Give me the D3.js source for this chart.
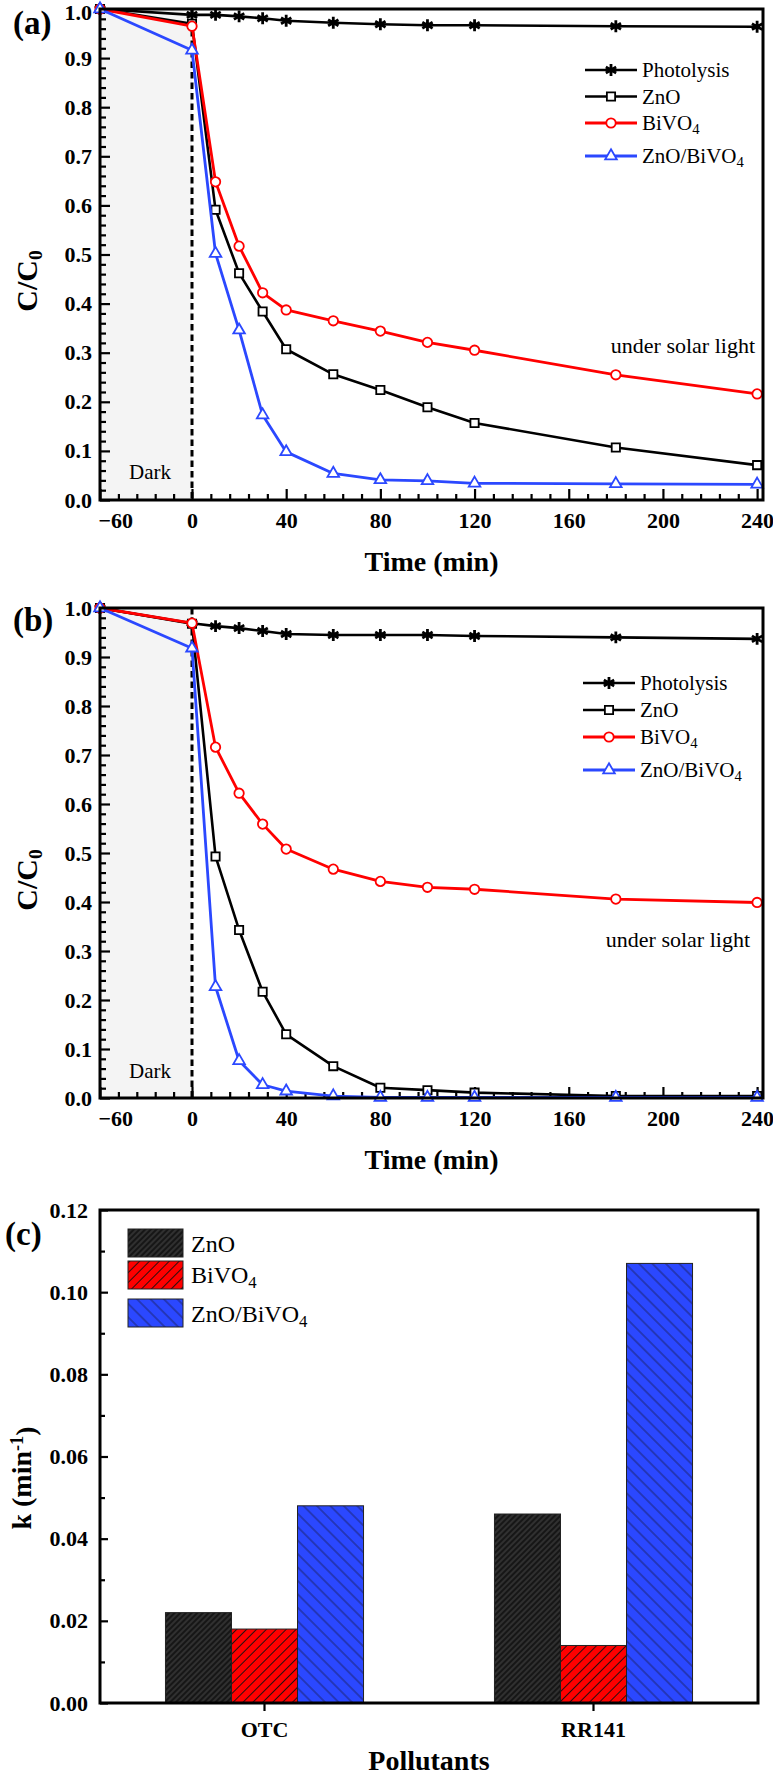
<!DOCTYPE html>
<html><head><meta charset="utf-8">
<script src="https://cdn.jsdelivr.net/npm/d3@7"></script>
<style>body{margin:0;background:#fff}svg{display:block}text{font-family:"Liberation Serif","Times New Roman",serif}</style>
</head><body><svg id="c" width="773" height="1778"></svg>
<script>
// ---------- data ----------
const times = [-60, 0, 10, 20, 30, 40, 60, 80, 100, 120, 180, 240];
const seriesNames = ["Photolysis", "ZnO", "BiVO4", "ZnO/BiVO4"];
// panel (a)
const photolysisA = [1.0, 0.988, 0.988, 0.985, 0.981, 0.976, 0.972, 0.969, 0.967, 0.967, 0.965, 0.964];
const znoA        = [1.0, 0.970, 0.591, 0.462, 0.384, 0.307, 0.256, 0.224, 0.189, 0.157, 0.107, 0.071];
const bivo4A      = [1.0, 0.965, 0.648, 0.517, 0.422, 0.387, 0.365, 0.344, 0.321, 0.305, 0.255, 0.216];
const compA       = [1.0, 0.916, 0.502, 0.346, 0.173, 0.098, 0.054, 0.041, 0.039, 0.034, 0.033, 0.032];
// panel (b)
const photolysisB = [1.0, 0.969, 0.963, 0.959, 0.953, 0.947, 0.945, 0.945, 0.945, 0.943, 0.940, 0.937];
const znoB        = [1.0, 0.968, 0.493, 0.343, 0.217, 0.130, 0.065, 0.021, 0.016, 0.011, 0.004, 0.004];
const bivo4B      = [1.0, 0.969, 0.716, 0.622, 0.559, 0.508, 0.467, 0.442, 0.430, 0.426, 0.406, 0.399];
const compB       = [1.0, 0.918, 0.227, 0.076, 0.027, 0.014, 0.004, 0.001, 0.001, 0.001, 0.001, 0.001];
// ticks
const xMajorTicks = [-60, 0, 40, 80, 120, 160, 200, 240];
const xMinorTicks = [-48, -36, -24, -12, 8, 16, 24, 32, 48, 56, 64, 72, 88, 96, 104, 112, 128, 136, 144, 152, 168, 176, 184, 192, 208, 216, 224, 232];
const yMajorTicks = [0, 0.1, 0.2, 0.3, 0.4, 0.5, 0.6, 0.7, 0.8, 0.9, 1.0];
// panel (c)
const pollutants = ["OTC", "RR141"];
const barSeries = ["ZnO", "BiVO4", "ZnO/BiVO4"];
const kZnO   = [0.022, 0.046];
const kBiVO4 = [0.018, 0.014];
const kComp  = [0.048, 0.107];
const kTicks = [0, 0.02, 0.04, 0.06, 0.08, 0.10, 0.12];
const kMinorTicks = [0.01, 0.03, 0.05, 0.07, 0.09, 0.11];

// ---------- setup ----------
const svg = d3.select("#c");
const defs = svg.append("defs");
const RED = "#ff0000", BLUE = "#2b48ff";

function hatch(id, bg, col, sp, angle, sw) {
  const p = defs.append("pattern").attr("id", id).attr("patternUnits", "userSpaceOnUse")
    .attr("width", sp).attr("height", sp).attr("patternTransform", `rotate(${angle})`);
  p.append("rect").attr("width", sp).attr("height", sp).attr("fill", bg);
  p.append("line").attr("x1", sp / 2).attr("x2", sp / 2).attr("y1", 0).attr("y2", sp)
    .attr("stroke", col).attr("stroke-width", sw);
}
hatch("hZnO", "#161616", "#4a4a4a", 4, 45, 1);
hatch("hBi", RED, "#111", 7, 45, 0.9);
hatch("hComp", BLUE, "#1c2266", 9.5, -45, 0.9);

const styles = {
  "Photolysis": {color: "#000", sym: d3.symbolAsterisk, size: 100, fill: "none", sw: 2.8, lw: 2.6},
  "ZnO": {color: "#000", sym: d3.symbolSquare, size: 68, fill: "#fff", sw: 1.8, lw: 2.6},
  "BiVO4": {color: RED, sym: d3.symbolCircle, size: 70, fill: "#fff", sw: 1.8, lw: 2.8},
  "ZnO/BiVO4": {color: BLUE, sym: d3.symbolTriangle, size: 58, fill: "#fff", sw: 1.8, lw: 2.8}
};

function addLabel(sel, name, subScale) {
  if (name.endsWith("BiVO4")) {
    sel.append("tspan").text(name.slice(0, -1));
    sel.append("tspan").attr("dy", "0.3em").attr("font-size", subScale).text("4");
  } else sel.text(name);
}

function styleAxis(g, fs) {
  g.select(".domain").remove();
  g.selectAll(".tick line").attr("stroke", "#000").attr("stroke-width", 2.2);
  g.selectAll(".tick text").attr("font-family", "Liberation Serif, Times New Roman, serif")
    .attr("font-weight", "bold").attr("font-size", fs).attr("fill", "#000");
}

function linePanel(cfg) {
  const x = d3.scaleLinear().domain([-60, 0, 242.5]).range([100, 192, 763]);
  const y = d3.scaleLinear().domain([0, 1]).range([cfg.bottom, cfg.top]);
  const g = svg.append("g");
  g.append("rect").attr("x", x(-60)).attr("y", cfg.top).attr("width", x(0) - x(-60))
    .attr("height", cfg.bottom - cfg.top).attr("fill", "#f4f4f4");
  const gx = g.append("g").attr("transform", `translate(0,${cfg.bottom})`)
    .call(d3.axisBottom(x).tickValues(xMajorTicks).tickSize(-11).tickPadding(12).tickFormat(d3.format("d")));
  styleAxis(gx, 22);
  gx.selectAll(".tick").filter(d => d === -60).select("text").attr("text-anchor", "start").attr("x", -2);
  const gxm = g.append("g").attr("transform", `translate(0,${cfg.bottom})`)
    .call(d3.axisBottom(x).tickValues(xMinorTicks).tickSize(-6).tickFormat(""));
  styleAxis(gxm, 22);
  const gy = g.append("g").attr("transform", `translate(100,0)`)
    .call(d3.axisLeft(y).tickValues(yMajorTicks).tickSize(-10).tickPadding(8).tickFormat(d3.format(".1f")));
  styleAxis(gy, 22);
  if (cfg.top < 20) gy.selectAll(".tick").filter(d => d === 1).select("text").attr("y", 3);
  const yMinor = d3.range(0, 1.0001, 0.02).filter(v => Math.abs(v * 10 - Math.round(v * 10)) > 1e-6);
  const gym = g.append("g").attr("transform", `translate(100,0)`)
    .call(d3.axisLeft(y).tickValues(yMinor).tickSize(-6).tickFormat(""));
  styleAxis(gym, 22);
  g.append("line").attr("x1", x(0)).attr("x2", x(0)).attr("y1", cfg.top).attr("y2", cfg.bottom)
    .attr("stroke", "#000").attr("stroke-width", 3).attr("stroke-dasharray", "6.5,4");
  const line = d3.line().x((d, i) => x(times[i])).y(d => y(d));
  seriesNames.forEach((name, si) => {
    const st = styles[name], vals = cfg.data[si];
    g.append("path").attr("d", line(vals)).attr("fill", "none").attr("stroke", st.color)
      .attr("stroke-width", st.lw).attr("stroke-linejoin", "round");
    g.selectAll(null).data(vals).enter().append("path")
      .attr("transform", (d, i) => `translate(${x(times[i])},${y(d)})`)
      .attr("d", d3.symbol(st.sym, st.size))
      .attr("fill", st.fill).attr("stroke", st.color).attr("stroke-width", st.sw);
  });
  g.append("rect").attr("x", 100).attr("y", cfg.top).attr("width", 663).attr("height", cfg.bottom - cfg.top)
    .attr("fill", "none").attr("stroke", "#000").attr("stroke-width", 3);
  seriesNames.forEach((name, si) => {
    const st = styles[name], ly = cfg.legendY[si];
    g.append("line").attr("x1", cfg.legendX).attr("x2", cfg.legendX + 52).attr("y1", ly).attr("y2", ly)
      .attr("stroke", st.color).attr("stroke-width", st.lw);
    g.append("path").attr("transform", `translate(${cfg.legendX + 26},${ly})`)
      .attr("d", d3.symbol(st.sym, st.size)).attr("fill", st.fill).attr("stroke", st.color).attr("stroke-width", st.sw);
    const t = g.append("text").attr("x", cfg.legendX + 57).attr("y", ly + 7).attr("font-size", 21);
    addLabel(t, name, "0.7em");
  });
  g.append("text").attr("x", 150).attr("y", cfg.darkY).attr("text-anchor", "middle").attr("font-size", 21).text("Dark");
  g.append("text").attr("x", cfg.solarX).attr("y", cfg.solarY).attr("text-anchor", "end").attr("font-size", 22).text("under solar light");
  g.append("text").attr("x", 431.5).attr("y", cfg.bottom + 71).attr("text-anchor", "middle")
    .attr("font-size", 28).attr("font-weight", "bold").text("Time (min)");
  const yt = g.append("text").attr("transform", `translate(37,${cfg.top + 272}) rotate(-90)`)
    .attr("text-anchor", "middle").attr("font-size", 30).attr("font-weight", "bold");
  yt.append("tspan").text("C/C");
  yt.append("tspan").attr("dy", "0.25em").attr("font-size", "0.65em").text("0");
  g.append("text").attr("x", 13).attr("y", cfg.labelY).attr("font-size", 33).attr("font-weight", "bold").text(cfg.label);
}

linePanel({top: 9, bottom: 500, data: [photolysisA, znoA, bivo4A, compA], legendX: 585,
  legendY: [70, 96.5, 123, 156], darkY: 479, solarX: 755, solarY: 353, label: "(a)", labelY: 34});
linePanel({top: 608, bottom: 1098, data: [photolysisB, znoB, bivo4B, compB], legendX: 583,
  legendY: [683, 710, 737, 770], darkY: 1078, solarX: 750, solarY: 947, label: "(b)", labelY: 631});

// ---------- panel (c) ----------
(function () {
  const top = 1210, bottom = 1703, left = 100, right = 758;
  const y = d3.scaleLinear().domain([0, 0.12]).range([bottom, top]);
  const x0 = d3.scaleBand().domain(pollutants).range([left, right]).paddingInner(0.398).paddingOuter(0.199);
  const x1 = d3.scaleBand().domain(barSeries).range([0, x0.bandwidth()]);
  const vals = {"ZnO": kZnO, "BiVO4": kBiVO4, "ZnO/BiVO4": kComp};
  const fills = {"ZnO": "url(#hZnO)", "BiVO4": "url(#hBi)", "ZnO/BiVO4": "url(#hComp)"};
  const g = svg.append("g");
  barSeries.forEach(s => {
    g.selectAll(null).data(pollutants).enter().append("rect")
      .attr("x", p => x0(p) + x1(s)).attr("width", x1.bandwidth())
      .attr("y", (p, i) => y(vals[s][i])).attr("height", (p, i) => bottom - y(vals[s][i]))
      .attr("fill", fills[s]).attr("stroke", "#222").attr("stroke-width", 1);
  });
  const gy = g.append("g").attr("transform", `translate(${left},0)`)
    .call(d3.axisLeft(y).tickValues(kTicks).tickSize(-8).tickPadding(12).tickFormat(d3.format(".2f")));
  styleAxis(gy, 22);
  const gym = g.append("g").attr("transform", `translate(${left},0)`)
    .call(d3.axisLeft(y).tickValues(kMinorTicks).tickSize(-5).tickFormat(""));
  styleAxis(gym, 22);
  const gx = g.append("g").attr("transform", `translate(0,${bottom})`)
    .call(d3.axisBottom(x0).tickSize(8).tickPadding(10));
  styleAxis(gx, 22);
  g.append("rect").attr("x", left).attr("y", top).attr("width", right - left).attr("height", bottom - top)
    .attr("fill", "none").attr("stroke", "#000").attr("stroke-width", 3);
  const ly = [1229, 1261, 1299];
  const lt = [1252, 1283, 1322];
  barSeries.forEach((s, i) => {
    g.append("rect").attr("x", 128).attr("y", ly[i]).attr("width", 55).attr("height", 28)
      .attr("fill", fills[s]).attr("stroke", "#222").attr("stroke-width", 1);
    const t = g.append("text").attr("x", 191).attr("y", lt[i]).attr("font-size", 24);
    addLabel(t, s, "0.7em");
  });
  g.append("text").attr("x", 429).attr("y", 1770).attr("text-anchor", "middle")
    .attr("font-size", 28).attr("font-weight", "bold").text("Pollutants");
  const yt = g.append("text").attr("transform", `translate(31,1478) rotate(-90)`)
    .attr("text-anchor", "middle").attr("font-size", 28).attr("font-weight", "bold");
  yt.append("tspan").text("k (min");
  yt.append("tspan").attr("dy", "-0.45em").attr("font-size", "0.65em").text("-1");
  yt.append("tspan").attr("dy", "0.45em").text(")");
  g.append("text").attr("x", 5).attr("y", 1245).attr("font-size", 33).attr("font-weight", "bold").text("(c)");
})();
</script></body></html>
